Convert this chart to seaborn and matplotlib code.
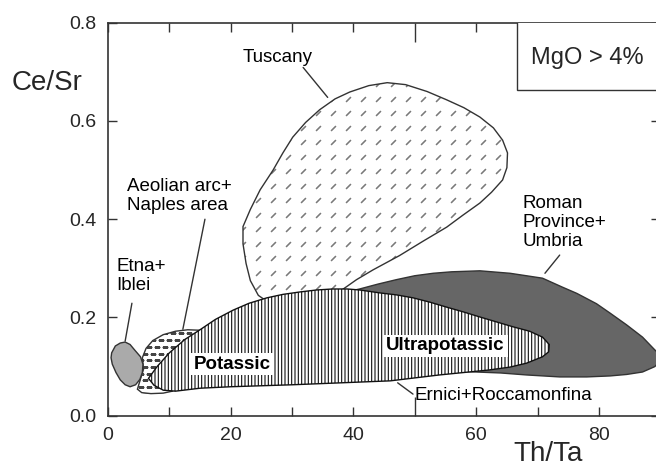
import numpy as np
import pandas as pd
import seaborn as sns
import matplotlib.pyplot as plt
from matplotlib.patches import Polygon, Rectangle

# field outlines (Th/Ta, Ce/Sr)
tuscany_x = [26.0, 24.5, 23.2, 22.5, 22.0, 22.0, 23.2, 24.8, 26.9, 28.5, 30.1, 32.2, 34.5, 37.0,
             39.4, 42.5, 45.5, 48.5, 52.0, 55.2, 58.0, 60.6, 62.8, 64.3, 65.1, 65.0, 64.3, 62.5,
             60.6, 57.8, 55.2, 51.3, 47.5, 43.2, 40.5, 38.0, 33.0, 28.0]
tuscany_y = [0.232, 0.245, 0.275, 0.310, 0.350, 0.385, 0.420, 0.460, 0.500, 0.535, 0.567, 0.597,
             0.623, 0.645, 0.659, 0.672, 0.678, 0.674, 0.660, 0.643, 0.627, 0.608, 0.586, 0.561,
             0.535, 0.505, 0.480, 0.455, 0.433, 0.408, 0.384, 0.355, 0.326, 0.297, 0.277, 0.255,
             0.235, 0.232]

roman_x = [38.0, 41.0, 44.0, 47.0, 50.0, 53.0, 56.0, 60.6, 65.5, 70.8, 74.0, 76.4, 79.6, 81.8,
           84.5, 87.1, 89.1, 90.5, 89.1, 87.1, 84.5, 81.8, 78.0, 73.6, 68.2, 64.0, 58.0, 50.0, 42.0]
roman_y = [0.250, 0.258, 0.268, 0.277, 0.285, 0.290, 0.293, 0.295, 0.290, 0.280, 0.262, 0.249,
           0.228, 0.209, 0.185, 0.160, 0.134, 0.118, 0.100, 0.089, 0.084, 0.081, 0.079, 0.079,
           0.083, 0.087, 0.090, 0.090, 0.100]

ernici_x = [6.6, 8.0, 10.0, 12.5, 15.0, 17.5, 20.4, 23.0, 25.9, 28.5, 31.3, 34.0, 36.6, 39.0,
            41.0, 44.3, 47.0, 49.7, 52.5, 55.2, 58.0, 60.6, 63.3, 66.0, 68.7, 70.8, 71.9, 71.8,
            70.8, 68.2, 65.5, 62.0, 58.0, 54.0, 50.0, 46.0, 42.0, 36.0, 30.0, 25.0, 20.0, 15.0,
            11.0, 9.0, 7.5]
ernici_y = [0.076, 0.100, 0.128, 0.155, 0.175, 0.196, 0.215, 0.229, 0.240, 0.247, 0.252, 0.256,
            0.258, 0.258, 0.256, 0.250, 0.246, 0.240, 0.231, 0.221, 0.211, 0.201, 0.191, 0.181,
            0.172, 0.160, 0.145, 0.130, 0.120, 0.107, 0.099, 0.093, 0.088, 0.083, 0.077, 0.071,
            0.069, 0.066, 0.063, 0.061, 0.059, 0.056, 0.050, 0.052, 0.062]

aeolian_x = [4.8, 5.3, 5.8, 5.6, 6.2, 7.3, 9.0, 11.0, 13.0, 15.0, 16.5, 15.0, 12.0, 10.5, 9.0,
             7.0, 5.5]
aeolian_y = [0.054, 0.075, 0.095, 0.118, 0.137, 0.153, 0.165, 0.172, 0.175, 0.174, 0.170, 0.120,
             0.070, 0.050, 0.046, 0.045, 0.047]

etna_x = [0.6, 1.2, 2.0, 2.8, 3.6, 4.4, 5.3, 5.7, 5.6, 5.2, 4.5, 3.6, 2.8, 2.0, 1.3, 0.7, 0.5]
etna_y = [0.128, 0.142, 0.148, 0.150, 0.145, 0.133, 0.120, 0.105, 0.088, 0.074, 0.063, 0.059,
          0.063, 0.073, 0.088, 0.105, 0.118]

# labels: text, x, y, ha, va, bold
labels = [
    ("Tuscany", 27.6, 0.721, "center", "baseline", False),
    ("Aeolian arc+\nNaples area", 3.1, 0.447, "left", "center", False),
    ("Etna+\nIblei", 1.4, 0.285, "left", "center", False),
    ("Roman\nProvince+\nUmbria", 67.6, 0.393, "left", "center", False),
    ("Ernici+Roccamonfina", 50.0, 0.032, "left", "baseline", False),
    ("Potassic", 20.2, 0.105, "center", "center", True),
    ("Ultrapotassic", 55.0, 0.142, "center", "center", True),
]
# leader lines: (x0, x1), (y0, y1)
leaders = [
    ((31.8, 35.8), (0.709, 0.648)),
    ((15.8, 12.2), (0.400, 0.176)),
    ((3.9, 2.8), (0.229, 0.152)),
    ((73.6, 71.2), (0.327, 0.290)),
    ((47.2, 49.7), (0.067, 0.044)),
]

sns.set_style("ticks")
plt.rcParams['font.family'] = ['Liberation Sans', 'DejaVu Sans']
plt.rcParams['hatch.linewidth'] = 0.8

fig = plt.figure(figsize=(6.56, 4.68), dpi=100)
ax = fig.add_axes([0.1646, 0.1117, 0.842, 0.8397])
ax.set_xlim(0, 90)
ax.set_ylim(0, 0.8)

line_col = "#333333"


def outline(xs, ys, **kw):
    df = pd.DataFrame({"x": list(xs) + [xs[0]], "y": list(ys) + [ys[0]]})
    sns.lineplot(data=df, x="x", y="y", sort=False, estimator=None, ax=ax,
                 color=line_col, linewidth=1.0, **kw)


def texture(patch, dx, dy, marker, size, color, stagger=False, mew=0.8):
    xs, ys = zip(*patch.get_xy())
    gx = np.arange(min(xs), max(xs) + dx, dx)
    gy = np.arange(min(ys), max(ys) + dy, dy)
    px, py = [], []
    for i, yy in enumerate(gy):
        off = dx / 2 if (stagger and i % 2) else 0
        px += list(gx + off)
        py += [yy] * len(gx)
    pts, = ax.plot(px, py, linestyle="none", marker=marker, markersize=size,
                   markeredgecolor=color, markerfacecolor=color, markeredgewidth=mew,
                   zorder=patch.get_zorder() + 0.1)
    pts.set_clip_path(patch)


# Tuscany
tus = Polygon(np.column_stack([tuscany_x, tuscany_y]), closed=True, facecolor="white",
              edgecolor="none", zorder=1)
ax.add_patch(tus)
texture(tus, 2.44, 0.0295, (2, 2, -45), 5, "#7a7a7a")
outline(tuscany_x, tuscany_y, zorder=1.5)

# Roman Province + Umbria
ax.fill(roman_x, roman_y, facecolor="#666666", edgecolor=line_col, linewidth=1.0, zorder=2)

# Aeolian arc + Naples
aeo = Polygon(np.column_stack([aeolian_x, aeolian_y]), closed=True, facecolor="white",
              edgecolor="none", zorder=2)
ax.add_patch(aeo)
texture(aeo, 1.3, 0.0136, "_", 4, "#444444", stagger=True, mew=0.9)
outline(aeolian_x, aeolian_y, zorder=2.5)

# Ernici + Roccamonfina
ax.fill(ernici_x, ernici_y, facecolor="white", edgecolor="#111111", hatch="|||||",
        linewidth=1.0, zorder=3)

# Etna + Iblei
ax.fill(etna_x, etna_y, facecolor="#aaaaaa", edgecolor=line_col, linewidth=1.0, zorder=3)

for lx, ly in leaders:
    ax.plot(lx, ly, color=line_col, linewidth=1.0, zorder=4)

for txt, tx, ty, ha, va, bold in labels:
    kw = {}
    if bold:
        kw = dict(fontweight="bold", bbox=dict(boxstyle="square,pad=0.15", facecolor="white",
                                               edgecolor="none"))
    ax.text(tx, ty, txt, ha=ha, va=va, fontsize=13.5, color="black", zorder=5,
            linespacing=1.15, **kw)

# MgO box
ax.add_patch(Rectangle((0.740, 0.829), 0.3, 0.2, transform=ax.transAxes, facecolor="white",
                       edgecolor=line_col, linewidth=1.0, zorder=6))
ax.text(0.867, 0.91, "MgO > 4%", transform=ax.transAxes, ha="center", va="center",
        fontsize=17, zorder=7)

# axes styling
ax.set_xticks(np.arange(0, 91, 10))
ax.set_xticklabels([str(v) if v % 20 == 0 else "" for v in range(0, 91, 10)])
ax.set_yticks([0.0, 0.2, 0.4, 0.6, 0.8])
ax.set_yticklabels(["0.0", "0.2", "0.4", "0.6", "0.8"])
ax.tick_params(direction="in", top=True, right=True, length=6.5, width=1.0, color=line_col,
               labelsize=14, pad=8)
for s in ax.spines.values():
    s.set_linewidth(1.2)
    s.set_color(line_col)
xt = ax.xaxis.get_major_ticks()
xt[5].tick1line.set_markersize(14)
xt[5].tick2line.set_markersize(14)

ax.set_xlabel("Th/Ta", fontsize=20, ha="center", va="baseline")
ax.xaxis.set_label_coords(0.797, -0.115)
ax.set_ylabel("Ce/Sr", fontsize=20, rotation=0, ha="center", va="center")
ax.yaxis.set_label_coords(-0.110, 0.847)

fig.savefig("out.png", dpi=100)
